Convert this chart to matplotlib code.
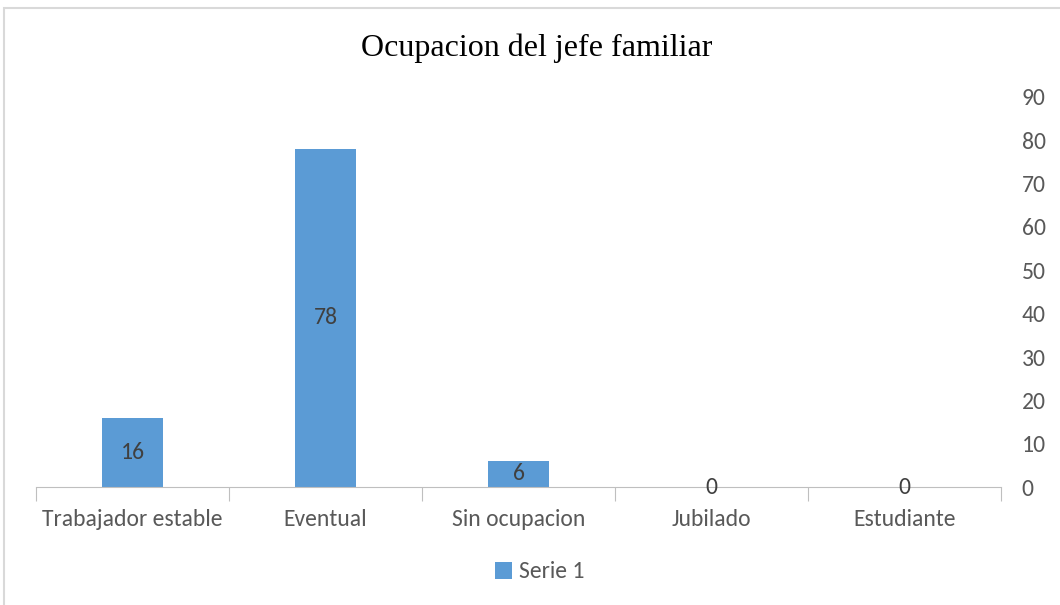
import numpy as np
import matplotlib.pyplot as plt
from matplotlib.patches import Rectangle

# datos
categorias = ['Trabajador estable', 'Eventual', 'Sin ocupacion', 'Jubilado', 'Estudiante']
serie1 = [16, 78, 6, 0, 0]
yticks = [0, 10, 20, 30, 40, 50, 60, 70, 80, 90]

sans = ['Carlito', 'Liberation Sans', 'DejaVu Sans']
gris = '#595959'

fig = plt.figure(figsize=(10.6, 6.05), dpi=100)
ax = fig.add_axes([36 / 1060, 118 / 605, 965 / 1060, 390 / 605])

x = np.arange(len(categorias))
bars = ax.bar(x, serie1, width=0.32, color='#5B9BD5', label='Serie 1', zorder=2)

# etiquetas de datos centradas en cada barra
for b, v in zip(bars, serie1):
    ax.text(b.get_x() + b.get_width() / 2, v / 2, str(v), ha='center', va='center',
            fontsize=17, color='#404040', family=sans, zorder=3)

ax.set_xlim(-0.5, len(categorias) - 0.5)
ax.set_ylim(0, 90)
ax.set_yticks(yticks)
ax.yaxis.tick_right()
ax.tick_params(axis='y', length=0, pad=15, labelsize=17, labelcolor=gris)
for lbl in ax.get_yticklabels():
    lbl.set_family(sans)

# marcas del eje x en los límites de categoría
ax.set_xticks(np.arange(-0.5, len(categorias)), minor=False)
ax.set_xticklabels([])
ax.set_xticks(x, minor=True)
ax.set_xticklabels(categorias, minor=True)
ax.tick_params(axis='x', which='major', length=10, color='#BFBFBF', direction='out')
ax.tick_params(axis='x', which='minor', length=0, pad=16, labelsize=17, labelcolor=gris)
for lbl in ax.get_xticklabels(minor=True):
    lbl.set_family(sans)

for s in ['top', 'left', 'right']:
    ax.spines[s].set_visible(False)
ax.spines['bottom'].set_color('#BFBFBF')

fig.suptitle('Ocupacion del jefe familiar', x=537 / 1060, y=1 - 48 / 605, va='center',
             fontsize=23, family=['Liberation Serif', 'DejaVu Serif'])

leg = fig.legend(loc='center', bbox_to_anchor=(540 / 1060, 1 - 572 / 605), frameon=False,
                 prop={'family': sans, 'size': 17}, handlelength=0.7, handleheight=0.7,
                 handletextpad=0.3)
for t in leg.get_texts():
    t.set_color(gris)

# borde del gráfico
fig.patches.append(Rectangle((4 / 1060, -0.05), 1.2, 1 - 8 / 605 + 0.05, transform=fig.transFigure,
                             fill=False, edgecolor='#D9D9D9', linewidth=1.5))

fig.savefig('out.png', dpi=100)
